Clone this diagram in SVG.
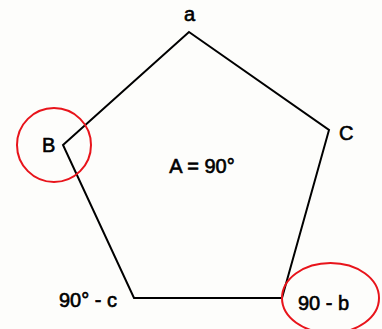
<svg xmlns="http://www.w3.org/2000/svg" width="382" height="329" viewBox="0 0 382 329">
<style>
.lbl{font-family:"Liberation Sans",Arial,sans-serif;font-size:20px;fill:#000;stroke:#000;stroke-width:0.6}
.edge{fill:none;stroke:#000;stroke-width:2;stroke-linejoin:miter}
.mark{fill:none;stroke:#e8141b;stroke-width:2}
</style>
<rect width="382" height="329" fill="#fdfdfb"/>
<g id="connectors">
<polygon class="edge" points="189,32 329,130 282,298 134,298 63,145"/>
</g>
<g id="node-a"><text class="lbl" x="189.5" y="21" text-anchor="middle">a</text></g>
<g id="node-C"><text class="lbl" x="339" y="140">C</text></g>
<g id="node-B"><circle class="mark" cx="54" cy="145" r="37"/><text class="lbl" x="42" y="152">B</text></g>
<g id="node-A"><text class="lbl" x="202" y="173" text-anchor="middle">A = 90°</text></g>
<g id="node-c"><text class="lbl" x="59" y="307">90° - c</text></g>
<g id="node-b"><ellipse class="mark" cx="330.5" cy="298" rx="48.5" ry="35"/><text class="lbl" x="298" y="310">90 - b</text></g>
</svg>
